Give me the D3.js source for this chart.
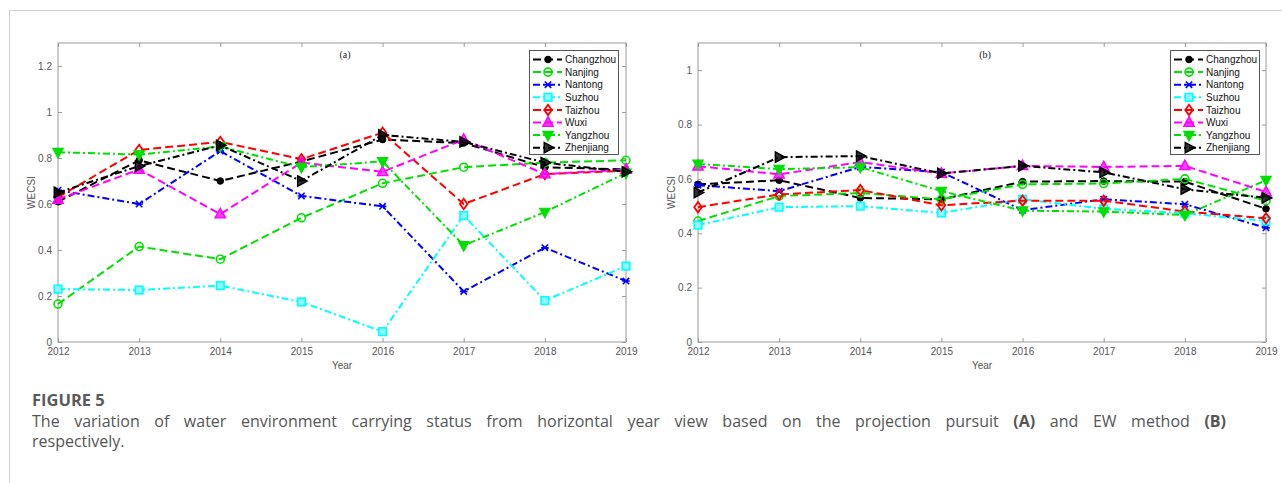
<!DOCTYPE html>
<html>
<head>
<meta charset="utf-8">
<script src="https://cdn.jsdelivr.net/npm/d3@7"></script>
<style>
  html, body { margin: 0; padding: 0; background: #fff; }
  svg { display: block; }
</style>
</head>
<body>
<svg id="fig" width="1282" height="483"></svg>
<script>
// Years on the horizontal axis
const years = [2012, 2013, 2014, 2015, 2016, 2017, 2018, 2019];
const cities = ["Changzhou", "Nanjing", "Nantong", "Suzhou", "Taizhou", "Wuxi", "Yangzhou", "Zhenjiang"];

// (a) projection pursuit WECSI
const ppChangzhou = [0.61, 0.79, 0.70, 0.785, 0.88, 0.865, 0.76, 0.75];
const ppNanjing   = [0.165, 0.415, 0.36, 0.54, 0.69, 0.76, 0.78, 0.79];
const ppNantong   = [0.66, 0.60, 0.83, 0.635, 0.59, 0.22, 0.41, 0.265];
const ppSuzhou    = [0.23, 0.226, 0.245, 0.174, 0.045, 0.55, 0.18, 0.33];
const ppTaizhou   = [0.63, 0.835, 0.87, 0.795, 0.91, 0.60, 0.73, 0.745];
const ppWuxi      = [0.62, 0.75, 0.556, 0.78, 0.74, 0.88, 0.73, 0.75];
const ppYangzhou  = [0.825, 0.815, 0.85, 0.76, 0.785, 0.42, 0.565, 0.735];
const ppZhenjiang = [0.65, 0.765, 0.855, 0.70, 0.90, 0.87, 0.78, 0.74];

// (b) EW method WECSI
const ewChangzhou = [0.58, 0.595, 0.53, 0.525, 0.59, 0.592, 0.59, 0.49];
const ewNanjing   = [0.445, 0.537, 0.548, 0.525, 0.58, 0.583, 0.60, 0.52];
const ewNantong   = [0.577, 0.555, 0.644, 0.625, 0.485, 0.525, 0.507, 0.42];
const ewSuzhou    = [0.43, 0.496, 0.50, 0.475, 0.525, 0.49, 0.474, 0.445];
const ewTaizhou   = [0.496, 0.543, 0.559, 0.503, 0.52, 0.52, 0.48, 0.455];
const ewWuxi      = [0.647, 0.617, 0.662, 0.62, 0.648, 0.644, 0.648, 0.552];
const ewYangzhou  = [0.655, 0.636, 0.643, 0.555, 0.483, 0.48, 0.467, 0.595];
const ewZhenjiang = [0.55, 0.68, 0.684, 0.62, 0.648, 0.624, 0.562, 0.53];

const yTicksA = [0, 0.2, 0.4, 0.6, 0.8, 1, 1.2];
const yTicksB = [0, 0.2, 0.4, 0.6, 0.8, 1];

const DASH = "8,4";
const DASHDOT = "7,3,2,3";

// line colour, dash and marker for each city
const styles = {
  Changzhou: { color: "#000000", dash: DASH,    marker: "circleFill" },
  Nanjing:   { color: "#00e000", dash: DASH,    marker: "circleOpen" },
  Nantong:   { color: "#0000ff", dash: DASHDOT, marker: "star" },
  Suzhou:    { color: "#00ffff", dash: DASHDOT, marker: "square" },
  Taizhou:   { color: "#ff0000", dash: DASH,    marker: "diamond" },
  Wuxi:      { color: "#ff00ff", dash: DASH,    marker: "triUp" },
  Yangzhou:  { color: "#00e000", dash: DASHDOT, marker: "triDown" },
  Zhenjiang: { color: "#000000", dash: DASHDOT, marker: "triRight" }
};

const svg = d3.select("#fig");

// outer figure frame
svg.append("path")
  .attr("d", "M9.5,483 L9.5,10.5 L1282,10.5")
  .attr("fill", "none").attr("stroke", "#cfcfcf").attr("stroke-width", 1);

function drawMarker(g, type, x, y, color) {
  if (type === "circleFill") {
    g.append("circle").attr("cx", x).attr("cy", y).attr("r", 3.3).attr("fill", color).attr("stroke", color);
  } else if (type === "circleOpen") {
    g.append("circle").attr("cx", x).attr("cy", y).attr("r", 4).attr("fill", "none").attr("stroke", color).attr("stroke-width", 1.6);
  } else if (type === "star") {
    const p = `M${x-3.2},${y-3.2}L${x+3.2},${y+3.2}M${x-3.2},${y+3.2}L${x+3.2},${y-3.2}M${x-3.8},${y}L${x+3.8},${y}`;
    g.append("path").attr("d", p).attr("stroke", color).attr("stroke-width", 1.6).attr("fill", "none");
  } else if (type === "square") {
    g.append("rect").attr("x", x - 3.8).attr("y", y - 3.8).attr("width", 7.6).attr("height", 7.6)
      .attr("fill", "#8ff8ff").attr("stroke", color).attr("stroke-width", 1.6);
  } else if (type === "diamond") {
    g.append("path").attr("d", `M${x},${y-5.2}L${x+3.8},${y}L${x},${y+5.2}L${x-3.8},${y}Z`)
      .attr("fill", "none").attr("stroke", color).attr("stroke-width", 1.8);
  } else if (type === "triUp") {
    g.append("path").attr("d", `M${x},${y-5.8}L${x+5.2},${y+3.8}L${x-5.2},${y+3.8}Z`)
      .attr("fill", color).attr("fill-opacity", 0.75).attr("stroke", color).attr("stroke-width", 1.4);
  } else if (type === "triDown") {
    g.append("path").attr("d", `M${x},${y+5.8}L${x+5.2},${y-3.8}L${x-5.2},${y-3.8}Z`)
      .attr("fill", color).attr("stroke", color).attr("stroke-width", 1.2);
  } else if (type === "triRight") {
    g.append("path").attr("d", `M${x+5.8},${y}L${x-3.8},${y-5.2}L${x-3.8},${y+5.2}Z`)
      .attr("fill", color).attr("fill-opacity", 0.8).attr("stroke", color).attr("stroke-width", 1.4);
  }
}

function panel(opt) {
  const { left, right, top, bottom, yMax, yTicks, series, tag, legendX, legendY } = opt;
  const x = d3.scaleLinear().domain([2012, 2019]).range([left, right]);
  const y = d3.scaleLinear().domain([0, yMax]).range([bottom, top]);
  const g = svg.append("g");
  const axisColor = "#9a9a9a";
  const sans = "Liberation Sans, Arial, sans-serif";

  // frame
  g.append("rect").attr("x", left).attr("y", top).attr("width", right - left).attr("height", bottom - top)
    .attr("fill", "none").attr("stroke", axisColor).attr("stroke-width", 1);

  // axes with inward ticks, mirrored on top and right
  const xa = g.append("g").attr("transform", `translate(0,${bottom})`)
    .call(d3.axisBottom(x).tickValues(years).tickFormat(d3.format("d")).tickSizeInner(-4).tickSizeOuter(0).tickPadding(6));
  const xt = g.append("g").attr("transform", `translate(0,${top})`)
    .call(d3.axisTop(x).tickValues(years).tickFormat("").tickSizeInner(-4).tickSizeOuter(0));
  const ya = g.append("g").attr("transform", `translate(${left},0)`)
    .call(d3.axisLeft(y).tickValues(yTicks).tickFormat(d3.format("~g")).tickSizeInner(-4).tickSizeOuter(0).tickPadding(6));
  const yr = g.append("g").attr("transform", `translate(${right},0)`)
    .call(d3.axisRight(y).tickValues(yTicks).tickFormat("").tickSizeInner(-4).tickSizeOuter(0));
  [xa, xt, ya, yr].forEach(a => {
    a.select(".domain").remove();
    a.selectAll(".tick line").attr("stroke", axisColor);
    a.selectAll("text").attr("fill", "#555").attr("font-family", sans).attr("font-size", 10);
  });

  // axis titles
  g.append("text").attr("x", (left + right) / 2).attr("y", bottom + 27).attr("text-anchor", "middle")
    .attr("font-family", sans).attr("font-size", 10).attr("fill", "#555").text("Year");
  g.append("text").attr("transform", `translate(${left - 23},${(top + bottom) / 2}) rotate(-90)`)
    .attr("text-anchor", "middle").attr("font-family", sans)
    .attr("font-size", 10).attr("fill", "#555").text("WECSI");
  g.append("text").attr("x", (left + right) / 2 + 3).attr("y", top + 15).attr("text-anchor", "middle")
    .attr("font-family", "Liberation Serif, Times New Roman, serif").attr("font-size", 10).attr("fill", "#222").text(tag);

  // series lines and markers
  const line = d3.line().x((d, i) => x(years[i])).y(d => y(d));
  cities.forEach((c, k) => {
    const st = styles[c];
    const vals = series[k];
    g.append("path").datum(vals).attr("d", line).attr("fill", "none")
      .attr("stroke", st.color).attr("stroke-width", 2).attr("stroke-dasharray", st.dash);
    vals.forEach((v, i) => drawMarker(g, st.marker, x(years[i]), y(v), st.color));
  });

  // legend
  const lw = 89, lh = 104, rowH = 12.6;
  const lg = g.append("g").attr("transform", `translate(${legendX},${legendY})`);
  lg.append("rect").attr("x", 0.5).attr("y", 0.5).attr("width", lw).attr("height", lh)
    .attr("fill", "#fff").attr("stroke", "#555").attr("stroke-width", 1);
  cities.forEach((c, k) => {
    const st = styles[c];
    const cy = 9.5 + k * rowH;
    lg.append("line").attr("x1", 4).attr("x2", 33).attr("y1", cy).attr("y2", cy)
      .attr("stroke", st.color).attr("stroke-width", 2).attr("stroke-dasharray", st.dash);
    drawMarker(lg, st.marker, 19, cy, st.color);
    lg.append("text").attr("x", 36).attr("y", cy + 3.6).attr("font-family", sans)
      .attr("font-size", 10).attr("fill", "#111").text(c);
  });
}

panel({
  left: 58, right: 626, top: 43, bottom: 342, yMax: 1.3, yTicks: yTicksA, tag: "(a)",
  series: [ppChangzhou, ppNanjing, ppNantong, ppSuzhou, ppTaizhou, ppWuxi, ppYangzhou, ppZhenjiang],
  legendX: 529, legendY: 50
});
panel({
  left: 698, right: 1266, top: 43, bottom: 342, yMax: 1.1, yTicks: yTicksB, tag: "(b)",
  series: [ewChangzhou, ewNanjing, ewNantong, ewSuzhou, ewTaizhou, ewWuxi, ewYangzhou, ewZhenjiang],
  legendX: 1170, legendY: 50
});

// caption: a justified paragraph, so its first line runs to the column's right edge
const capX = 32, capRight = 1226, capSize = 16;
const cap = svg.append("g").attr("font-family", "Open Sans, Noto Sans, sans-serif").attr("fill", "#555");
cap.append("text").attr("x", capX).attr("y", 406).attr("font-size", 16.5).attr("font-weight", "bold").attr("fill", "#5a5a5a")
  .text("FIGURE 5");
const l2 = cap.append("text").attr("x", capX).attr("y", 427).attr("font-size", capSize);
const parts = [
  ["The variation of water environment carrying status from horizontal year view based on the projection pursuit ", "normal"],
  ["(A)", "bold"],
  [" and EW method ", "normal"],
  ["(B)", "bold"]
];
parts.forEach(([t, w]) => l2.append("tspan").attr("font-weight", w).text(t));
const spaces = parts.reduce((n, [t]) => n + (t.match(/ /g) || []).length, 0);
const natural = l2.node().getComputedTextLength();
l2.attr("word-spacing", Math.max(0, (capRight - capX - natural) / spaces));
cap.append("text").attr("x", capX).attr("y", 447).attr("font-size", capSize).text("respectively.");
</script>
</body>
</html>
